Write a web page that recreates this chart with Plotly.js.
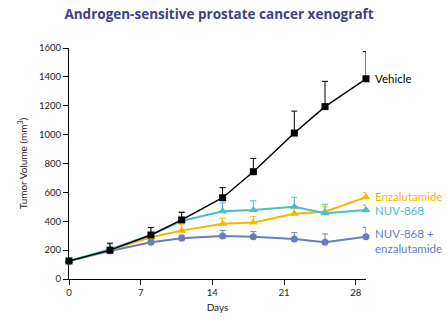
<!DOCTYPE html>
<html>
<head>
<meta charset="utf-8">
<script src="https://cdn.plot.ly/plotly-3.0.1.min.js"></script>
<style>html,body{margin:0;padding:0;background:#fff;}#chart{width:447px;height:324px;}</style>
</head>
<body>
<div id="chart"></div>
<script>
const days = [0, 4, 8, 11, 15, 18, 22, 25, 29];
const xTicks = [0, 7, 14, 21, 28];
const yTicks = [0, 200, 400, 600, 800, 1000, 1200, 1400, 1600];

const seriesNames = ["Vehicle", "Enzalutamide", "NUV-868", "NUV-868 +<br>enzalutamide"];
const vehicle = [125, 200, 305, 409, 563, 743, 1011, 1194, 1387];
const vehicleErr = [10, 48, 52, 52, 70, 92, 152, 175, 188];
const enzalutamide = [125, 201, 289, 335, 383, 392, 452, 466, 566];
const enzalutamideErr = [8, 15, 32, 44, 38, 42, 38, 34, 34];
const nuv868 = [125, 206, 305, 402, 469, 478, 501, 455, 478];
const nuv868Err = [8, 36, 50, 64, 58, 64, 65, 62, 34];
const combo = [125, 194, 254, 282, 297, 293, 277, 254, 293];
const comboErr = [8, 20, 18, 22, 40, 35, 44, 58, 65];

const colors = ["#000000", "#f7b500", "#4bbcc8", "#6a7cc0"];
const symbols = ["square", "triangle-up", "triangle-up", "circle"];
const sizes = [7, 8, 8, 7];

const ys = [vehicle, enzalutamide, nuv868, combo];
const errs = [vehicleErr, enzalutamideErr, nuv868Err, comboErr];

const order = [3, 1, 2, 0];
const traces = order.map(i => ({
  x: days, y: ys[i], type: "scatter", mode: "lines+markers",
  name: seriesNames[i], cliponaxis: false,
  line: {color: colors[i], width: i === 0 ? 1.5 : 2},
  marker: {color: colors[i], symbol: symbols[i], size: sizes[i]},
  error_y: {type: "data", symmetric: false, array: errs[i],
            arrayminus: errs[i].map(() => 0), color: colors[i], thickness: 1, width: 3}
}));

const last = days.length - 1;
const labelShift = [0, 1, -1, -4];
const annotations = [0, 1, 2, 3].map(i => ({
  x: days[last], y: ys[i][last], xref: "x", yref: "y",
  text: seriesNames[i], showarrow: false, xanchor: "left", yanchor: "middle",
  align: "left", xshift: 7, yshift: labelShift[i],
  font: {family: "Lato, 'Open Sans', sans-serif", size: 11.5, color: colors[i]}
}));

const layout = {
  width: 447, height: 324,
  margin: {l: 69, r: 81, t: 48, b: 45},
  paper_bgcolor: "#fff", plot_bgcolor: "#fff",
  showlegend: false,
  title: {text: "<b>Androgen-sensitive prostate cancer xenograft</b>",
          font: {family: "'Open Sans', sans-serif", size: 13.5, color: "#3f4282"},
          x: 0.49, xanchor: "center", y: 0.955, yanchor: "middle"},
  xaxis: {range: [0, 29], tickvals: xTicks, ticktext: xTicks.map(String),
          showline: true, linecolor: "#000", linewidth: 1, ticks: "outside",
          ticklen: 5, tickcolor: "#000", showgrid: false, zeroline: false,
          tickfont: {family: "Lato, sans-serif", size: 9.5, color: "#222"},
          title: {text: "Days", font: {family: "Lato, sans-serif", size: 10, color: "#222"}, standoff: 6}},
  yaxis: {range: [0, 1600], tickvals: yTicks, ticktext: yTicks.map(String),
          showline: true, linecolor: "#000", linewidth: 1, ticks: "outside",
          ticklen: 5, tickcolor: "#000", showgrid: false, zeroline: false,
          tickfont: {family: "Lato, sans-serif", size: 9.5, color: "#222"},
          title: {text: "Tumor Volume (mm<sup>3</sup>)", font: {family: "Lato, sans-serif", size: 10, color: "#222"}, standoff: 9}},
  annotations: annotations
};

Plotly.newPlot("chart", traces, layout, {displayModeBar: false, staticPlot: true});
</script>
</body>
</html>
